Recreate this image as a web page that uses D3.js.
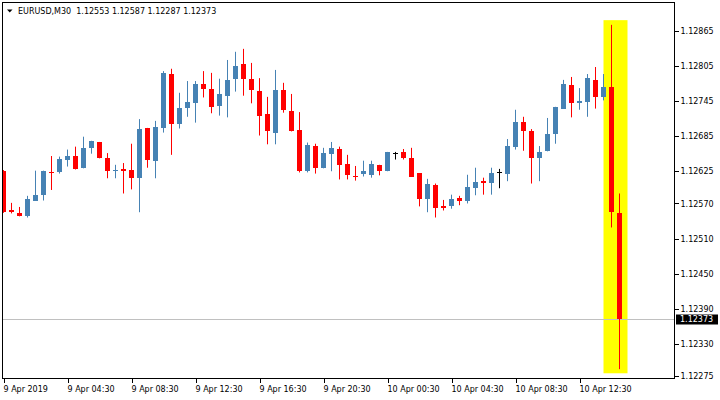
<!DOCTYPE html>
<html>
<head>
<meta charset="utf-8">
<script src="https://cdn.jsdelivr.net/npm/d3@7"></script>
<style>
  body { margin: 0; background: #fff; }
  svg { display: block; font-family: 'DejaVu Sans', sans-serif; }
</style>
</head>
<body>
<svg width="720" height="400"></svg>
<script>
const symbol = 'EURUSD,M30';

// M30 bars, 9 Apr 2019 00:30 .. 10 Apr 15:00
const opens = [
  1.12625, 1.12558, 1.12554, 1.12549, 1.12575, 1.12585, 1.12624, 1.12623, 1.12645, 1.12651,
  1.12630, 1.12664, 1.12675, 1.12648, 1.12626, 1.12629, 1.12627, 1.12613, 1.12699, 1.12643,
  1.12699, 1.12791, 1.12705, 1.12733, 1.12741, 1.12774, 1.12766, 1.12737, 1.12754, 1.12783,
  1.12808, 1.12783, 1.12762, 1.12723, 1.12691, 1.12764, 1.12728, 1.12696, 1.12625, 1.12668,
  1.12630, 1.12655, 1.12663, 1.12638, 1.12617, 1.12621, 1.12619, 1.12636, 1.12625, 1.12656,
  1.12658, 1.12648, 1.12622, 1.12577, 1.12602, 1.12566, 1.12565, 1.12579, 1.12575, 1.12597,
  1.12609, 1.12605, 1.12624, 1.12621, 1.12666, 1.12709, 1.12694, 1.12647, 1.12659, 1.12688,
  1.12732, 1.12772, 1.12742, 1.12744, 1.12781, 1.12751, 1.12769, 1.12553
];
const highs = [
  1.12627, 1.12571, 1.12564, 1.12583, 1.12626, 1.12626, 1.12651, 1.12650, 1.12662, 1.12667,
  1.12684, 1.12677, 1.12675, 1.12656, 1.12636, 1.12639, 1.12672, 1.12714, 1.12699, 1.12711,
  1.12796, 1.12800, 1.12759, 1.12779, 1.12779, 1.12796, 1.12793, 1.12783, 1.12815, 1.12829,
  1.12834, 1.12810, 1.12784, 1.12752, 1.12798, 1.12776, 1.12757, 1.12726, 1.12674, 1.12672,
  1.12665, 1.12675, 1.12667, 1.12653, 1.12634, 1.12643, 1.12643, 1.12636, 1.12658, 1.12658,
  1.12663, 1.12665, 1.12622, 1.12612, 1.12604, 1.12576, 1.12585, 1.12583, 1.12619, 1.12631,
  1.12614, 1.12631, 1.12629, 1.12680, 1.12730, 1.12718, 1.12697, 1.12668, 1.12716, 1.12735,
  1.12781, 1.12786, 1.12767, 1.12791, 1.12803, 1.12791, 1.12875, 1.12587
];
const lows = [
  1.12554, 1.12553, 1.12548, 1.12546, 1.12575, 1.12575, 1.12593, 1.12621, 1.12633, 1.12628,
  1.12630, 1.12655, 1.12647, 1.12613, 1.12613, 1.12587, 1.12594, 1.12555, 1.12631, 1.12613,
  1.12691, 1.12653, 1.12698, 1.12718, 1.12708, 1.12751, 1.12724, 1.12720, 1.12717, 1.12761,
  1.12754, 1.12741, 1.12686, 1.12671, 1.12671, 1.12725, 1.12693, 1.12623, 1.12623, 1.12621,
  1.12630, 1.12625, 1.12611, 1.12611, 1.12609, 1.12616, 1.12614, 1.12618, 1.12625, 1.12645,
  1.12645, 1.12616, 1.12565, 1.12555, 1.12546, 1.12558, 1.12561, 1.12567, 1.12570, 1.12584,
  1.12585, 1.12585, 1.12596, 1.12608, 1.12662, 1.12660, 1.12604, 1.12608, 1.12659, 1.12672,
  1.12732, 1.12717, 1.12730, 1.12718, 1.12732, 1.12746, 1.12529, 1.12287
];
const closes = [
  1.12555, 1.12555, 1.12548, 1.12578, 1.12585, 1.12626, 1.12623, 1.12646, 1.12651, 1.12628,
  1.12665, 1.12677, 1.12648, 1.12625, 1.12627, 1.12625, 1.12613, 1.12697, 1.12645, 1.12701,
  1.12793, 1.12705, 1.12733, 1.12743, 1.12774, 1.12766, 1.12735, 1.12757, 1.12781, 1.12805,
  1.12783, 1.12763, 1.12720, 1.12694, 1.12764, 1.12729, 1.12693, 1.12626, 1.12670, 1.12631,
  1.12656, 1.12665, 1.12635, 1.12618, 1.12616, 1.12626, 1.12638, 1.12626, 1.12658, 1.12656,
  1.12647, 1.12616, 1.12577, 1.12604, 1.12563, 1.12563, 1.12578, 1.12575, 1.12598, 1.12607,
  1.12605, 1.12622, 1.12624, 1.12668, 1.12709, 1.12694, 1.12648, 1.12658, 1.12689, 1.12735,
  1.12774, 1.12741, 1.12745, 1.12784, 1.12752, 1.12769, 1.12555, 1.12373
];

const priceTicks = [1.12865, 1.12805, 1.12745, 1.12685, 1.12625, 1.12570, 1.12510, 1.12450, 1.12390, 1.12330, 1.12275];
const timeTickBars = [0, 8, 16, 24, 32, 40, 48, 56, 64, 72];
const timeTickLabels = ['9 Apr 2019', '9 Apr 04:30', '9 Apr 08:30', '9 Apr 12:30', '9 Apr 16:30',
  '9 Apr 20:30', '10 Apr 00:30', '10 Apr 04:30', '10 Apr 08:30', '10 Apr 12:30'];

// yellow box drawn over the last two bars
const highlightBars = [76, 77];
const highlightPrices = [1.12280, 1.12883];

const bars = opens.map((o, i) => ({ i, o, h: highs[i], l: lows[i], c: closes[i] }));
const last = bars[bars.length - 1];

const plotLeft = 2, plotRight = 674, plotTop = 2, plotBottom = 378;

const x = d3.scaleLinear().domain([0, 77]).range([3.5, 619.5]);
const y = d3.scaleLinear().domain([1.12275, 1.12865]).range([376.2, 30.7]);
const step = x(1) - x(0);

const svg = d3.select('svg');

svg.append('clipPath').attr('id', 'plot')
  .append('rect')
  .attr('x', plotLeft + 1).attr('y', plotTop + 1)
  .attr('width', plotRight - plotLeft - 1).attr('height', plotBottom - plotTop - 1);

const plot = svg.append('g').attr('clip-path', 'url(#plot)');

plot.append('rect')
  .attr('x', x(highlightBars[0]) - step)
  .attr('width', (highlightBars[1] - highlightBars[0] + 2) * step)
  .attr('y', y(highlightPrices[1]))
  .attr('height', y(highlightPrices[0]) - y(highlightPrices[1]))
  .attr('fill', '#ffff00');

// current price line
const lastY = Math.round(y(last.c)) + 0.5;
plot.append('line')
  .attr('x1', plotLeft).attr('x2', plotRight)
  .attr('y1', lastY).attr('y2', lastY)
  .attr('stroke', '#c0c0c0');

const colour = (d) => (d.c > d.o ? '#4682b4' : d.c < d.o ? '#ff0000' : '#000000');

const candles = plot.append('g').selectAll('g').data(bars).join('g');

candles.append('line')
  .attr('x1', (d) => x(d.i)).attr('x2', (d) => x(d.i))
  .attr('y1', (d) => y(d.h)).attr('y2', (d) => y(d.l))
  .attr('stroke', colour)
  .attr('stroke-width', 1);

candles.append('rect')
  .attr('x', (d) => x(d.i) - 2.5)
  .attr('width', 5)
  .attr('y', (d) => y(Math.max(d.o, d.c)))
  .attr('height', (d) => Math.max(1, Math.abs(y(d.o) - y(d.c))))
  .attr('fill', colour)
  .attr('shape-rendering', 'crispEdges');

// frame
svg.append('rect')
  .attr('x', plotLeft + 0.5).attr('y', plotTop + 0.5)
  .attr('width', plotRight - plotLeft).attr('height', plotBottom - plotTop)
  .attr('fill', 'none').attr('stroke', '#000');

const yAxis = svg.append('g')
  .attr('transform', `translate(${plotRight + 0.5},0)`)
  .call(d3.axisRight(y).tickValues(priceTicks).tickFormat(d3.format('.5f')).tickSize(4));

const xAxis = svg.append('g')
  .attr('transform', `translate(0,${plotBottom + 0.5})`)
  .call(d3.axisBottom(x).tickValues(timeTickBars).tickFormat((d, i) => timeTickLabels[i]).tickSize(4));

[yAxis, xAxis].forEach((g) => {
  g.select('.domain').remove();
  g.selectAll('line').attr('stroke', '#000').attr('shape-rendering', 'crispEdges');
  g.selectAll('text').attr('fill', '#000').attr('font-size', 8)
    .attr('font-family', "'DejaVu Sans', sans-serif");
});

xAxis.selectAll('text').attr('text-anchor', 'start').attr('x', -0.5).attr('y', 8);
yAxis.selectAll('text').attr('x', 6);

// price tag for the close of the last bar
svg.append('rect')
  .attr('x', plotRight + 2).attr('y', lastY - 5)
  .attr('width', 42).attr('height', 10)
  .attr('fill', '#000');
svg.append('text')
  .attr('x', plotRight + 6).attr('y', lastY).attr('dy', '0.35em')
  .attr('fill', '#fff').attr('font-size', 8)
  .text(d3.format('.5f')(last.c));

// title
svg.append('path')
  .attr('d', 'M7,9.5 L12.5,9.5 L9.75,12.5 Z')
  .attr('fill', '#000');
svg.append('text')
  .attr('x', 18).attr('y', 14)
  .attr('font-size', 8).attr('fill', '#000')
  .style('white-space', 'pre')
  .text(`${symbol}  ${[last.o, last.h, last.l, last.c].map(d3.format('.5f')).join(' ')}`);
</script>
</body>
</html>
